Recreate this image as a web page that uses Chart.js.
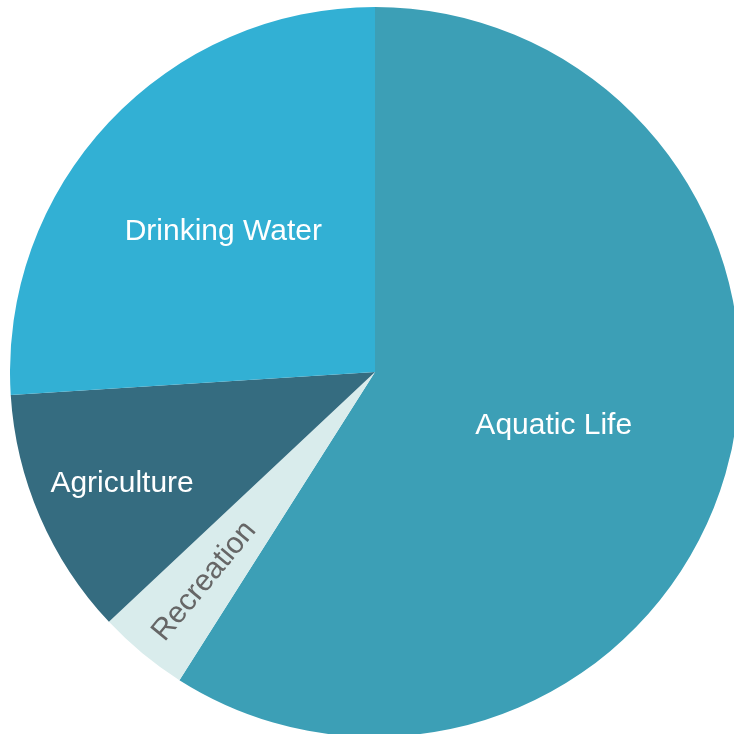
<!DOCTYPE html>
<html>
<head>
<meta charset="utf-8">
<script src="https://cdn.jsdelivr.net/npm/chart.js@4"></script>
<style>
    html, body { margin: 0; padding: 0; background: #fff; overflow: hidden; width: 734px; height: 734px; }
    #wrap { position: absolute; left: 10px; top: 7px; width: 730px; height: 730px; }
</style>
</head>
<body>
<div id="wrap"><canvas id="useChart"></canvas></div>
<script>
const categories = ['Aquatic Life', 'Recreation', 'Agriculture', 'Drinking Water'];
const shares = [59, 4, 11, 26];

const sliceColors = ['#3c9fb6', '#d9ecec', '#356c80', '#32b0d4'];
const labelColors = ['#ffffff', '#666666', '#ffffff', '#ffffff'];
// how far out from the centre each label sits, and whether it follows the radius
const labelRadius = [0.51, 0.74, 0.755, 0.57];
const labelAlongRadius = [false, true, false, false];

const sliceLabels = {
    id: 'sliceLabels',
    afterDatasetsDraw(chart) {
        const ctx = chart.ctx;
        const arcs = chart.getDatasetMeta(0).data;
        ctx.save();
        ctx.font = '30px "Liberation Sans", Arial, sans-serif';
        ctx.textAlign = 'center';
        ctx.textBaseline = 'middle';
        arcs.forEach((arc, i) => {
            const p = arc.getProps(['x', 'y', 'startAngle', 'endAngle', 'outerRadius'], true);
            const mid = (p.startAngle + p.endAngle) / 2;
            const r = p.outerRadius * labelRadius[i];
            const x = p.x + Math.cos(mid) * r;
            const y = p.y + Math.sin(mid) * r;
            ctx.save();
            ctx.translate(x, y);
            if (labelAlongRadius[i]) ctx.rotate(mid - Math.PI);
            ctx.fillStyle = labelColors[i];
            // small nudge so the capitals sit centred on the anchor
            ctx.fillText(categories[i], 0, 2);
            ctx.restore();
        });
        ctx.restore();
    }
};

new Chart(document.getElementById('useChart'), {
    type: 'pie',
    data: {
        labels: categories,
        datasets: [{
            data: shares,
            backgroundColor: sliceColors,
            borderWidth: 0
        }]
    },
    options: {
        responsive: true,
        maintainAspectRatio: false,
        animation: false,
        layout: { padding: 0 },
        plugins: {
            legend: { display: false },
            tooltip: { enabled: false }
        }
    },
    plugins: [sliceLabels]
});
</script>
</body>
</html>
